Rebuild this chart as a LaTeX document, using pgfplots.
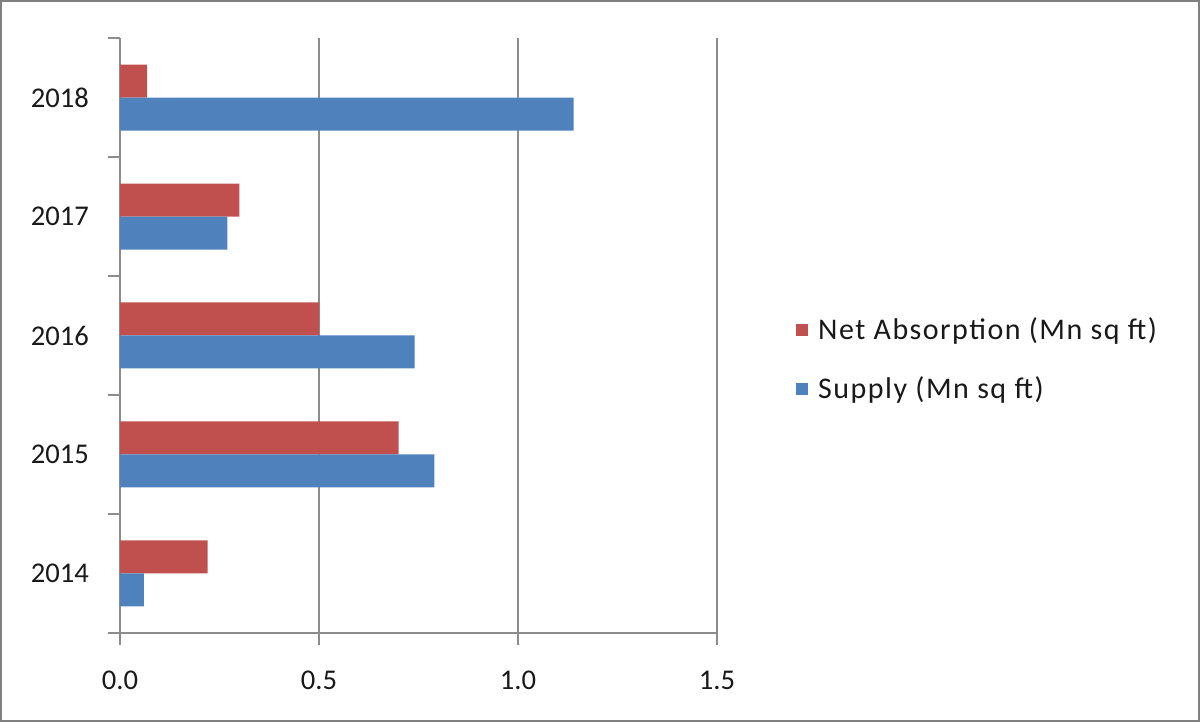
\documentclass[border=0pt]{standalone}
\usepackage{pgfplots}
\pgfplotsset{compat=1.18}
\usepackage{fontspec}
\setmainfont{Carlito}
\definecolor{netred}{HTML}{C0504D}
\definecolor{supblue}{HTML}{4F81BD}
\definecolor{gridgray}{HTML}{8C8C8C}
\definecolor{framegray}{HTML}{808080}
\begin{document}
\begin{tikzpicture}
\draw[framegray, line width=1.2pt] (0.6pt,0.6pt) rectangle (599.4pt,360.4pt);
\begin{axis}[
  at={(60pt,44.5pt)}, anchor=south west,
  scale only axis, width=298.5pt, height=297.5pt,
  xbar, bar width=16.5pt,
  xmin=0, xmax=1.5, ymin=-0.5, ymax=4.5,
  axis lines*=left, axis line style={gridgray, line width=0.8pt, -},
  xtick={0,0.5,1,1.5}, xticklabels={0.0,0.5,1.0,1.5},
  ytick={0,1,2,3,4}, yticklabels={2014,2015,2016,2017,2018},
  ytick style={draw=none},
  extra y ticks={-0.5,0.5,1.5,2.5,3.5,4.5}, extra y tick labels={},
  extra y tick style={ytick style={draw=gridgray, line width=0.8pt}, major tick length=6pt, tick align=outside, grid=none},
  xtick style={draw=gridgray, line width=0.8pt}, major tick length=6pt, tick align=outside,
  xmajorgrids, major grid style={gridgray, line width=0.8pt},
  /pgf/number format/assume math mode=true,
  tick label style={font=\fontsize{14.3}{16}\selectfont, text=black!90},
  xticklabel style={yshift=-9.5pt},
  yticklabel style={xshift=-6pt},
  legend style={draw=none, fill=none, at={(1.122,0.459)}, anchor=west,
    font=\fontsize{15}{17}\selectfont\addfontfeatures{LetterSpace=5}, text=black!90,
    row sep=13pt, legend cell align=left,
    nodes={inner xsep=5pt}},
  legend image code/.code={\fill[#1] (0pt,-3pt) rectangle (6pt,3pt);},
]
\addplot[fill=netred, draw=none, bar shift=8.25pt] coordinates {(0.22,0) (0.70,1) (0.50,2) (0.30,3) (0.068,4)};
\addplot[fill=supblue, draw=none, bar shift=-8.25pt] coordinates {(0.06,0) (0.79,1) (0.74,2) (0.27,3) (1.14,4)};
\legend{Net Absorption (Mn sq ft), Supply (Mn sq ft)}
\end{axis}
\end{tikzpicture}
\end{document}
